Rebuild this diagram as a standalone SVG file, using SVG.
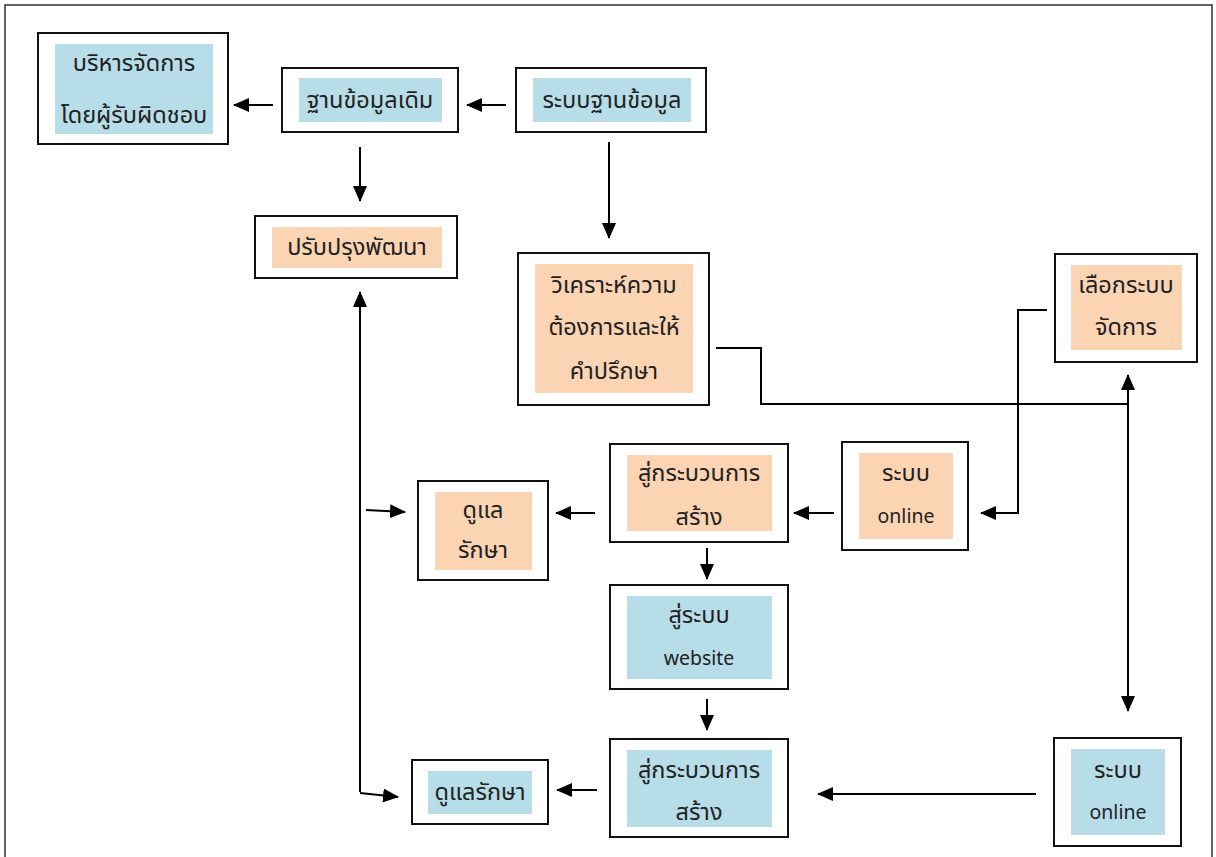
<svg xmlns="http://www.w3.org/2000/svg" width="1216" height="857" viewBox="0 0 1216 857">
<defs>
<style>
.o{fill:#fff;stroke:#111;stroke-width:2}
.b{fill:#b7dde8}
.r{fill:#fbd4b4}
.t{font-family:"Noto Sans","Noto Sans Thai","DejaVu Sans",sans-serif;font-size:23.5px;fill:#222;text-anchor:middle}
.e{font-family:"Noto Sans","DejaVu Sans",sans-serif;font-size:19.5px;fill:#222;text-anchor:middle}
.c{fill:none;stroke:#000;stroke-width:2}
</style>
<marker id="ah" viewBox="0 0 16 14" refX="15" refY="7" markerWidth="16" markerHeight="14" markerUnits="userSpaceOnUse" orient="auto-start-reverse">
<path d="M0,0 L16,7 L0,14 z" fill="#000"/>
</marker>
</defs>
<rect x="5" y="5" width="1207" height="870" fill="#fff" stroke="#333" stroke-width="1.5"/>
<g id="nA"><rect class="o" x="38" y="33" width="190" height="111"/><rect class="b" x="55" y="44" width="158" height="90"/><text class="t" x="134" y="71">บริหารจัดการ</text><text class="t" x="134" y="123">โดยผู้รับผิดชอบ</text></g>
<g id="nB"><rect class="o" x="282" y="68" width="176" height="64"/><rect class="b" x="299" y="78" width="143" height="44"/><text class="t" x="370" y="108">ฐานข้อมูลเดิม</text></g>
<g id="nC"><rect class="o" x="516" y="68" width="190" height="64"/><rect class="b" x="533" y="78" width="158" height="44"/><text class="t" x="612" y="108">ระบบฐานข้อมูล</text></g>
<g id="nD"><rect class="o" x="255" y="216" width="202" height="62"/><rect class="r" x="272" y="227" width="170" height="41"/><text class="t" x="357" y="255">ปรับปรุงพัฒนา</text></g>
<g id="nE"><rect class="o" x="518" y="253" width="191" height="152"/><rect class="r" x="535" y="264" width="158" height="129"/><text class="t" x="614" y="293">วิเคราะห์ความ</text><text class="t" x="614" y="335">ต้องการและให้</text><text class="t" x="614" y="379">คำปรึกษา</text></g>
<g id="nF"><rect class="o" x="1055" y="254" width="142" height="108"/><rect class="r" x="1071" y="265" width="111" height="85"/><text class="t" x="1126" y="293">เลือกระบบ</text><text class="t" x="1126" y="335">จัดการ</text></g>
<g id="nG"><rect class="o" x="842" y="442" width="126" height="108"/><rect class="r" x="859" y="453" width="94" height="86"/><text class="t" x="906" y="481">ระบบ</text><text class="e" x="906" y="523">online</text></g>
<g id="nH"><rect class="o" x="610" y="444" width="178" height="98"/><rect class="r" x="627" y="455" width="145" height="76"/><text class="t" x="699" y="481">สู่กระบวนการ</text><text class="t" x="699" y="525">สร้าง</text></g>
<g id="nI"><rect class="o" x="418" y="481" width="130" height="99"/><rect class="r" x="435" y="492" width="97" height="78"/><text class="t" x="483" y="518">ดูแล</text><text class="t" x="483" y="558">รักษา</text></g>
<g id="nJ"><rect class="o" x="610" y="585" width="178" height="104"/><rect class="b" x="627" y="596" width="145" height="83"/><text class="t" x="699" y="623">สู่ระบบ</text><text class="e" x="699" y="665">website</text></g>
<g id="nK"><rect class="o" x="610" y="739" width="178" height="98"/><rect class="b" x="627" y="750" width="145" height="77"/><text class="t" x="699" y="778">สู่กระบวนการ</text><text class="t" x="699" y="820">สร้าง</text></g>
<g id="nL"><rect class="o" x="412" y="760" width="136" height="64"/><rect class="b" x="428" y="771" width="104" height="43"/><text class="t" x="480" y="800">ดูแลรักษา</text></g>
<g id="nM"><rect class="o" x="1054" y="738" width="127" height="108"/><rect class="b" x="1071" y="749" width="94" height="86"/><text class="t" x="1118" y="778">ระบบ</text><text class="e" x="1118" y="819">online</text></g>
<g id="connectors">
<path class="c" d="M506,105 H467" marker-end="url(#ah)"/>
<path class="c" d="M273,105 H234" marker-end="url(#ah)"/>
<path class="c" d="M360,147 V201" marker-end="url(#ah)"/>
<path class="c" d="M609,142 V238" marker-end="url(#ah)"/>
<path class="c" d="M716,348 H761 V404 H1128"/>
<path class="c" d="M1128,375 V711" marker-start="url(#ah)" marker-end="url(#ah)"/>
<path class="c" d="M1047,310 H1018 V513 H981" marker-end="url(#ah)"/>
<path class="c" d="M834,513 H794" marker-end="url(#ah)"/>
<path class="c" d="M595,513 H556" marker-end="url(#ah)"/>
<path class="c" d="M360,292 V792" marker-start="url(#ah)"/>
<path class="c" d="M366,510 L405,512" marker-end="url(#ah)"/>
<path class="c" d="M360,793 L398,797" marker-end="url(#ah)"/>
<path class="c" d="M707,548 V579" marker-end="url(#ah)"/>
<path class="c" d="M707,699 V730" marker-end="url(#ah)"/>
<path class="c" d="M597,790 H557" marker-end="url(#ah)"/>
<path class="c" d="M1036,794 H818" marker-end="url(#ah)"/>
</g>
</svg>
